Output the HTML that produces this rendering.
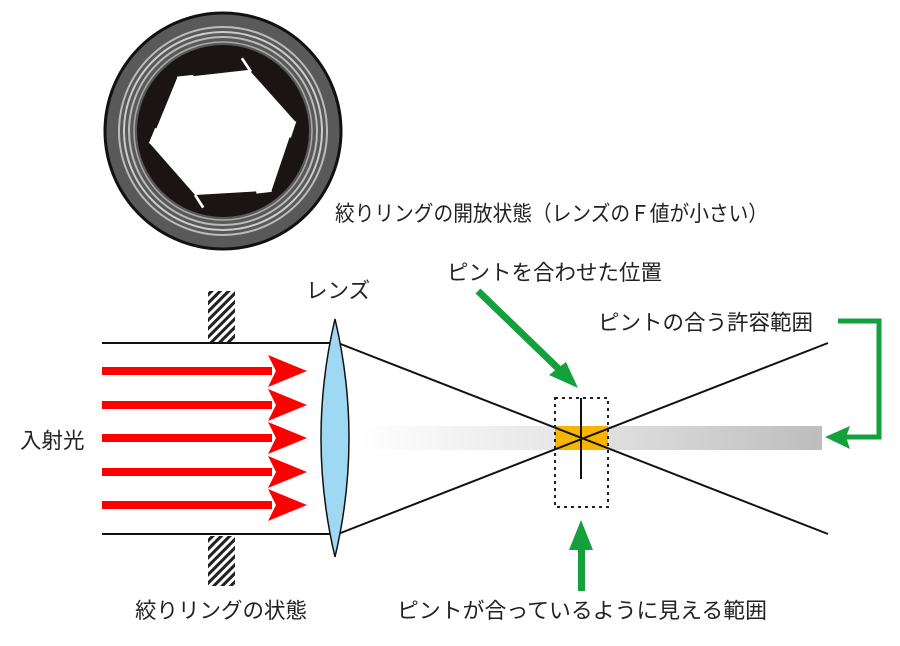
<!DOCTYPE html>
<html><head><meta charset="utf-8"><style>
body{margin:0;background:#fff}
svg{display:block}
text{font-family:"Liberation Sans","Noto Sans CJK JP",sans-serif;fill:#222}
</style></head><body>
<svg width="900" height="646" viewBox="0 0 900 646" xmlns="http://www.w3.org/2000/svg">
<defs>
<pattern id="h" width="6" height="6" patternUnits="userSpaceOnUse" patternTransform="rotate(45)">
<rect width="6" height="6" fill="#fff"/><rect width="3" height="6" fill="#222"/></pattern>
<linearGradient id="g" x1="0" x2="1"><stop offset="0" stop-color="#fff"/><stop offset="0.5" stop-color="#e2e2e2"/><stop offset="1" stop-color="#bdbdbd"/></linearGradient>
</defs>
<!-- aperture ring -->
<circle cx="223" cy="131" r="118" fill="#595959" stroke="#111" stroke-width="3"/>
<circle cx="223" cy="131" r="104" fill="none" stroke="#bbb" stroke-width="2"/>
<circle cx="223" cy="131" r="99" fill="none" stroke="#ccc" stroke-width="2"/>
<circle cx="223" cy="131" r="94" fill="none" stroke="#bbb" stroke-width="2"/>
<circle cx="223" cy="131" r="89" fill="none" stroke="#aaa" stroke-width="1.5"/>
<circle cx="223" cy="131" r="86" fill="#1a1414"/>
<g transform="translate(223 132) scale(0.9) translate(-223 -132)">
<polygon points="172,72 252,63 303,120 277,197 192,202 142,145" fill="#fff"/>
<g stroke="#fff" stroke-width="3">
<line x1="172" y1="72" x2="190" y2="70"/>
<line x1="244" y1="50" x2="254" y2="65"/>
<line x1="303" y1="120" x2="297" y2="138"/>
<line x1="277" y1="197" x2="260" y2="199"/>
<line x1="192" y1="202" x2="201" y2="216"/>
<line x1="142" y1="145" x2="149" y2="128"/>
</g>
</g>
<!-- hatched blocks -->
<rect x="208" y="291" width="27" height="51" fill="url(#h)"/>
<rect x="208" y="536" width="27" height="50" fill="url(#h)"/>
<!-- gray bar -->
<rect x="360" y="426" width="462" height="24" fill="url(#g)"/>
<rect x="555" y="426" width="53" height="24" fill="#f7b500"/>
<!-- rays -->
<g stroke="#111" stroke-width="2" fill="none">
<line x1="102" y1="343" x2="338" y2="343"/>
<line x1="102" y1="534" x2="338" y2="534"/>
<line x1="338" y1="343" x2="828" y2="534"/>
<line x1="338" y1="534" x2="828" y2="343"/>
<line x1="581" y1="398" x2="581" y2="479"/>
</g>
<rect x="555" y="398" width="53" height="109" fill="none" stroke="#222" stroke-width="2" stroke-dasharray="3,4"/>
<!-- lens -->
<path d="M335,319 Q307,438 335,557 Q363,438 335,319Z" fill="#9ed8f3" stroke="#111" stroke-width="1.5"/>
<!-- red arrows -->
<g fill="#f00">
<g id="ra"><rect x="102" y="367" width="170" height="8"/><polygon points="268,355 307,371 268,387 276,371"/></g>
<use href="#ra" y="34"/><use href="#ra" y="67"/><use href="#ra" y="101"/><use href="#ra" y="134"/>
</g>
<!-- green arrows -->
<g fill="#14a03c" stroke="none">
<line x1="478" y1="291" x2="565" y2="375" stroke="#14a03c" stroke-width="7"/>
<polygon points="578,388 549,375 566,362"/>
<rect x="578" y="546" width="7" height="45"/>
<polygon points="581,520 569,550 593,550"/>
<polyline points="838,321 879,321 879,437 845,437" fill="none" stroke="#14a03c" stroke-width="5"/>
<polygon points="825,437 850,426 846,437 850,449"/>
</g>
<!-- text -->
<g font-size="21.5">
<text x="335" y="221" textLength="433" lengthAdjust="spacingAndGlyphs">絞りリングの開放状態（レンズのＦ値が小さい）</text>
<text x="447" y="280">ピントを合わせた位置</text>
<text x="306" y="298">レンズ</text>
<text x="598" y="330">ピントの合う許容範囲</text>
<text x="20" y="448">入射光</text>
<text x="135" y="618">絞りリングの状態</text>
<text x="397" y="618" textLength="370" lengthAdjust="spacingAndGlyphs">ピントが合っているように見える範囲</text>
</g>
</svg>
</body></html>
